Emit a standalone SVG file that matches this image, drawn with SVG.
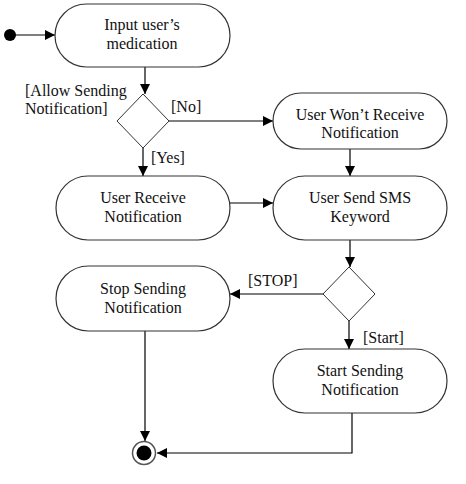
<svg xmlns="http://www.w3.org/2000/svg" width="466" height="484" viewBox="0 0 466 484">
<defs>
<marker id="arr" viewBox="0 0 10 10" refX="10" refY="5" markerWidth="10" markerHeight="10" markerUnits="userSpaceOnUse" orient="auto">
<path d="M0,0 L10,5 L0,10 z" fill="#000"/>
</marker>
<style>
.node{fill:#fff;stroke:#333;stroke-width:1.2}
.dia{fill:#fff;stroke:#333;stroke-width:1}
.t{font-family:"Liberation Serif","Times New Roman",serif;font-size:16px;fill:#111;text-anchor:middle}
.l{font-family:"Liberation Serif","Times New Roman",serif;font-size:16px;fill:#111}
.c{fill:none;stroke:#000;stroke-width:1.2}
</style>
</defs>
<rect width="466" height="484" fill="#fff"/>
<g id="connectors">
<path class="c" d="M15,35 H55" marker-end="url(#arr)"/>
<path class="c" d="M145,67 V94" marker-end="url(#arr)"/>
<path class="c" d="M169,121 H273" marker-end="url(#arr)"/>
<path class="c" d="M143,148 V176" marker-end="url(#arr)"/>
<path class="c" d="M350,149 V176" marker-end="url(#arr)"/>
<path class="c" d="M230,203 H273" marker-end="url(#arr)"/>
<path class="c" d="M350,240 V267" marker-end="url(#arr)"/>
<path class="c" d="M323,294 H230" marker-end="url(#arr)"/>
<path class="c" d="M349,321 V349" marker-end="url(#arr)"/>
<path class="c" d="M145,331 V441" marker-end="url(#arr)"/>
<path class="c" d="M352,413 V453 H157" marker-end="url(#arr)"/>
</g>
<g id="labels">
<text class="l" x="25" y="96">[Allow Sending</text>
<text class="l" x="25" y="114">Notification]</text>
<text class="l" x="171" y="112">[No]</text>
<text class="l" x="151" y="163">[Yes]</text>
<text class="l" x="248" y="286">[STOP]</text>
<text class="l" x="363" y="343">[Start]</text>
</g>
<g id="start"><circle cx="10" cy="35" r="6" fill="#000"/></g>
<g id="n1">
<rect class="node" x="55" y="4" width="175" height="63" rx="31.5"/>
<text class="t" x="142" y="30">Input user’s</text>
<text class="t" x="142" y="49">medication</text>
</g>
<g id="d1"><polygon class="dia" points="143,94 169,121 143,148 117,121"/></g>
<g id="n2">
<rect class="node" x="273" y="93" width="174" height="56" rx="28"/>
<text class="t" x="360" y="120">User Won’t Receive</text>
<text class="t" x="360" y="138">Notification</text>
</g>
<g id="n3">
<rect class="node" x="56" y="176" width="174" height="64" rx="32"/>
<text class="t" x="143" y="203">User Receive</text>
<text class="t" x="143" y="222">Notification</text>
</g>
<g id="n4">
<rect class="node" x="273" y="176" width="174" height="64" rx="32"/>
<text class="t" x="360" y="203">User Send SMS</text>
<text class="t" x="360" y="222">Keyword</text>
</g>
<g id="d2"><polygon class="dia" points="349,267 375,294 349,321 323,294"/></g>
<g id="n5">
<rect class="node" x="56" y="266" width="174" height="65" rx="32.5"/>
<text class="t" x="143" y="294">Stop Sending</text>
<text class="t" x="143" y="313">Notification</text>
</g>
<g id="n6">
<rect class="node" x="273" y="349" width="174" height="64" rx="32"/>
<text class="t" x="360" y="376">Start Sending</text>
<text class="t" x="360" y="395">Notification</text>
</g>
<g id="end">
<circle cx="144" cy="453" r="11.5" fill="#fff" stroke="#555" stroke-width="1.5"/>
<circle cx="144" cy="453" r="7.5" fill="#000"/>
</g>
</svg>
